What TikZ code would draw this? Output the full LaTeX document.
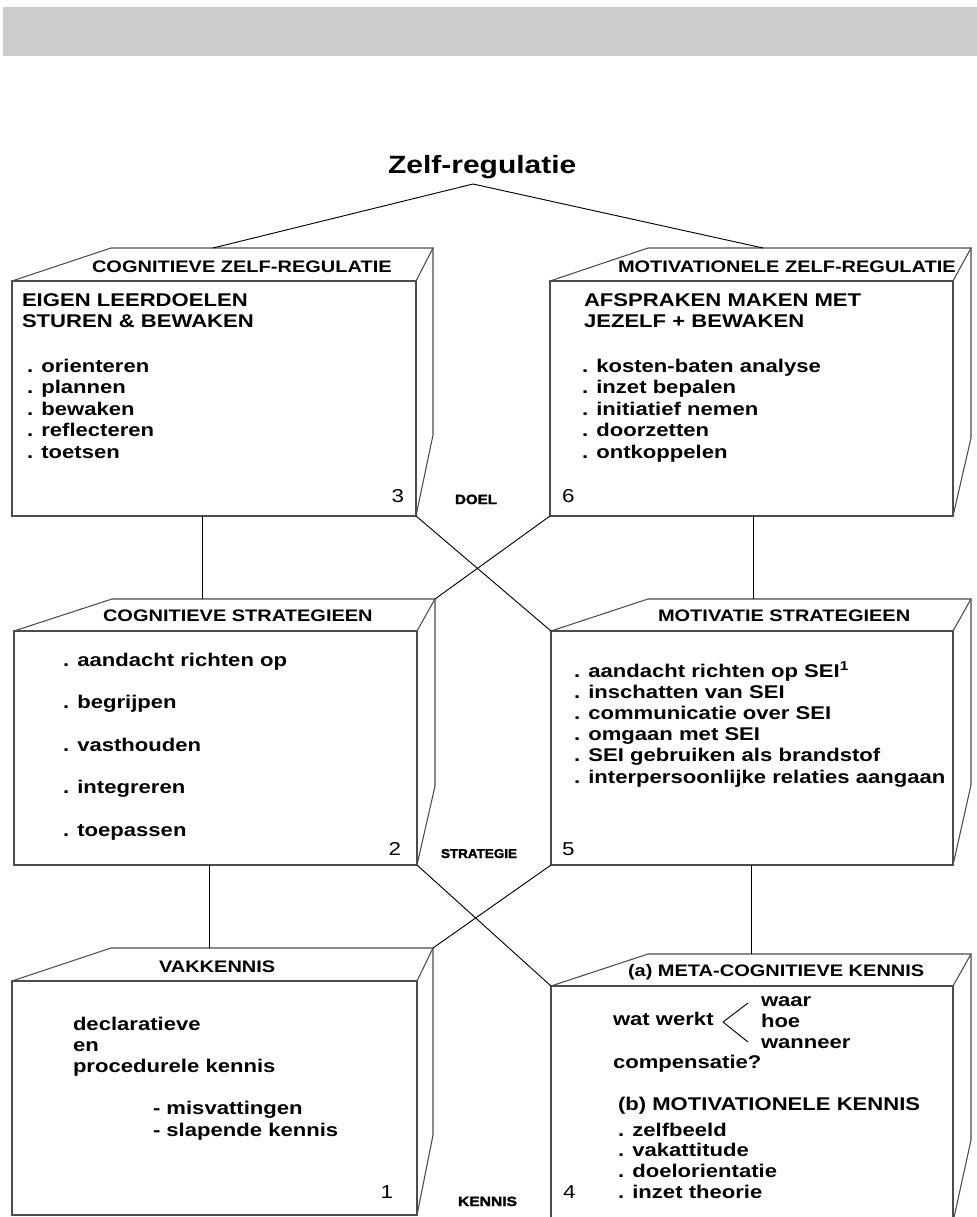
\documentclass[tikz,border=0pt]{standalone}
\usepackage{fontspec}
\setmainfont{Liberation Sans}[FakeStretch=1.2]
\newfontfamily\heavyfont{Liberation Sans Bold}[FakeBold=2]
\usepackage{graphicx}
\definecolor{barfill}{HTML}{CCCCCC}
\newcommand{\cubebox}[9]{%
  \coordinate (#1-nw) at (#2,#3);
  \coordinate (#1-ne) at (#4,#3);
  \coordinate (#1-sw) at (#2,#5);
  \coordinate (#1-se) at (#4,#5);
  \coordinate (#1-bl) at (#6,#7);
  \coordinate (#1-br) at (#8,#7);
  \coordinate (#1-bd) at (#8,#9);
  \draw[boxline] (#1-nw) rectangle (#1-se);
  \draw[boxline] (#1-nw) -- (#1-bl) -- (#1-br) -- (#1-ne);
  \draw[boxline] (#1-br) -- (#1-bd) -- (#1-se);
}
\begin{document}
\begin{tikzpicture}[x=0.75pt,y=-0.75pt,
  boxline/.style={draw=black!70,line width=0.8pt},
  conn/.style={draw=black,line width=0.7pt},
  txt/.style={inner sep=0pt,outer sep=0pt,anchor=base west},
  body/.style={txt,font=\fontsize{13.8}{16}\selectfont\bfseries},
  hdr/.style={txt,font=\fontsize{12.5}{15}\selectfont\bfseries},
  num/.style={inner sep=0pt,outer sep=0pt,font=\fontsize{14}{16}\selectfont},
  lvl/.style={txt,font=\heavyfont},
]
\useasboundingbox (0,0) rectangle (977,1217);
\clip (0,0) rectangle (977,1217);
\fill[barfill] (3,7) rectangle (977,56);

% title
\node[txt,font=\fontsize{18.75}{20}\selectfont\bfseries] (title) at (388,173) {Zelf-regulatie};
\coordinate (apex) at (473,184);

% boxes
\cubebox{b3}{12}{281}{416}{516}{111}{248}{433}{435}
\cubebox{b6}{550}{281}{953}{516}{648}{248}{971}{438}
\cubebox{b2}{14}{631}{417}{865}{112}{599}{435}{786}
\cubebox{b5}{551}{631}{953}{865}{648}{599}{971}{785}
\cubebox{b1}{12}{981}{417}{1215}{111}{948}{433}{1135}
\cubebox{b4}{551}{986}{953}{1222}{648}{954}{971}{1140}

% connector end points
\coordinate (b3-top) at (213,248);
\coordinate (b6-top) at (763,248);
\coordinate (b3-bot) at (202,516);
\coordinate (b2-top) at (202,599);
\coordinate (b6-bot) at (753,516);
\coordinate (b5-top) at (753,599);
\coordinate (b2-bot) at (209,865);
\coordinate (b1-top) at (209,948);
\coordinate (b5-bot) at (751,865);
\coordinate (b4-top) at (751,954);

\draw[conn] (apex) -- (b3-top);
\draw[conn] (apex) -- (b6-top);
\draw[conn] (b3-bot) -- (b2-top);
\draw[conn] (b6-bot) -- (b5-top);
\draw[conn] (b2-bot) -- (b1-top);
\draw[conn] (b5-bot) -- (b4-top);
\draw[conn] (b3-se) -- (b5-nw);
\draw[conn] (b6-sw) -- (b2-br);
\draw[conn] (b2-se) -- (b4-nw);
\draw[conn] (b5-sw) -- (b1-br);

% box 3
\node[hdr] (h3) at (92,272) {COGNITIEVE ZELF-REGULATIE};
\node[body] (t3a) at (22,306) {EIGEN LEERDOELEN};
\node[body] (t3b) at (22,327) {STUREN \& BEWAKEN};
\foreach \itm [count=\i from 0] in {. orienteren,. plannen,. bewaken,. reflecteren,. toetsen}
  \node[body] (c3-\i) at (27,{372+21.5*\i}) {\itm};
\node[num,anchor=base east] (n3) at (404,502) {3};

% box 6
\node[hdr] (h6) at (618,272) {MOTIVATIONELE ZELF-REGULATIE};
\node[body] (t6a) at (584,306) {AFSPRAKEN MAKEN MET};
\node[body] (t6b) at (584,327) {JEZELF + BEWAKEN};
\foreach \itm [count=\i from 0] in {. kosten-baten analyse,. inzet bepalen,. initiatief nemen,. doorzetten,. ontkoppelen}
  \node[body] (c6-\i) at (582,{372+21.5*\i}) {\itm};
\node[num,anchor=base west] (n6) at (562,502) {6};

% box 2
\node[hdr] (h2) at (103,621) {COGNITIEVE STRATEGIEEN};
\foreach \itm [count=\i from 0] in {. aandacht richten op,. begrijpen,. vasthouden,. integreren,. toepassen}
  \node[body] (c2-\i) at (63,{666+42.5*\i}) {\itm};
\node[num,anchor=base east] (n2) at (401,855) {2};

% box 5
\node[hdr] (h5) at (658,621) {MOTIVATIE STRATEGIEEN};
\foreach \itm [count=\i from 0] in {{. aandacht richten op SEI\textsuperscript{1}},. inschatten van SEI,. communicatie over SEI,. omgaan met SEI,. SEI gebruiken als brandstof,. interpersoonlijke relaties aangaan}
  \node[body] (c5-\i) at (574,{677+21.2*\i}) {\itm};
\node[num,anchor=base west] (n5) at (562,855) {5};

% box 1
\node[hdr] (h1) at (159,972) {VAKKENNIS};
\node[body] (t1a) at (73,1030) {declaratieve};
\node[body] (t1b) at (73,1051) {en};
\node[body] (t1c) at (73,1072) {procedurele kennis};
\node[body] (t1d) at (153,1114) {- misvattingen};
\node[body] (t1e) at (153,1136) {- slapende kennis};
\node[num,anchor=base east] (n1) at (393,1198) {1};

% box 4
\node[hdr] (h4) at (628,976) {(a) META-COGNITIEVE KENNIS};
\node[body] (w0) at (613,1025) {wat werkt};
\node[body] (w1) at (761,1006) {waar};
\node[body] (w2) at (761,1027) {hoe};
\node[body] (w3) at (761,1048) {wanneer};
\coordinate (fork) at (723,1022);
\coordinate (forkup) at (748,1003);
\coordinate (forkdn) at (748,1042);
\draw[conn] (forkup) -- (fork) -- (forkdn);
\node[body] (w4) at (613,1068) {compensatie?};
\node[body] (h4b) at (618,1110) {(b) MOTIVATIONELE KENNIS};
\foreach \itm [count=\i from 0] in {. zelfbeeld,. vakattitude,. doelorientatie,. inzet theorie}
  \node[body] (c4-\i) at (618,{1136+20.7*\i}) {\itm};
\node[num,anchor=base west] (n4) at (563,1198) {4};

% level labels
\node[lvl] (doel) at (455,504) {\resizebox{31.5pt}{7pt}{DOEL}};
\node[lvl] (strat) at (441,858) {\resizebox{57pt}{6.75pt}{STRATEGIE}};
\node[lvl] (kennis) at (458,1206) {\resizebox{44.25pt}{7pt}{KENNIS}};
\end{tikzpicture}
\end{document}
